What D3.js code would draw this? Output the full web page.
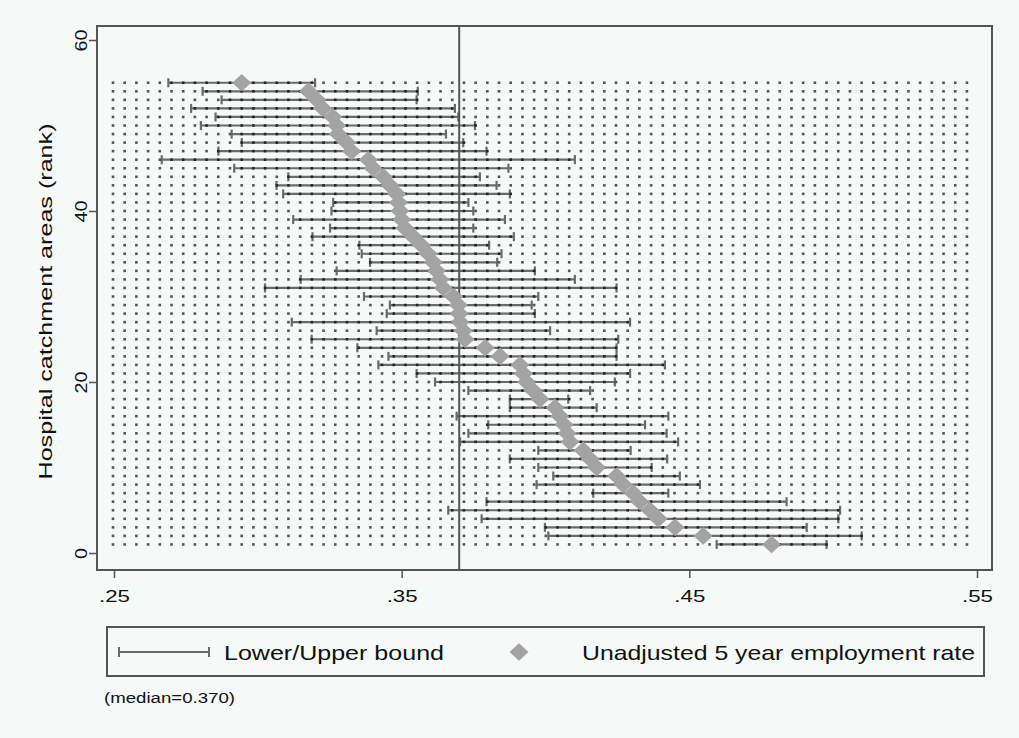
<!DOCTYPE html>
<html><head><meta charset="utf-8">
<script src="https://cdn.jsdelivr.net/npm/d3@7"></script>
<style>
body{margin:0;background:#f5f9f7;}
text{font-family:"Liberation Sans",Arial,sans-serif;fill:#111;}
</style>
</head><body>
<svg id="c" width="1019" height="738"></svg>
<script>
// ---- data (index 0 = rank 1 ... index 54 = rank 55) ----
const estimate = [.4786,.4548,.4450,.4392,.4363,.4328,.4305,.4270,.4247,.4178,
  .4155,.4131,.4085,.4075,.4065,.4050,.4033,.3981,.3957,.3934,
  .3923,.3911,.3842,.3790,.3720,.3714,.3703,.3700,.3697,.3680,
  .3645,.3633,.3621,.3610,.3592,.3569,.3540,.3511,.3500,.3494,
  .3489,.3483,.3459,.3436,.3401,.3384,.3326,.3309,.3279,.3274,
  .3261,.3226,.3205,.3176,.2944];
const lower = [.4595,.4010,.3998,.3778,.3662,.3795,.4166,.3969,.4027,.3975,
  .3876,.3975,.3703,.3732,.3801,.3691,.3876,.3876,.3732,.3616,
  .3552,.3419,.3454,.3346,.3187,.3413,.3118,.3448,.3459,.3369,
  .3025,.3149,.3274,.3390,.3361,.3353,.3190,.3251,.3123,.3256,
  .3262,.3088,.3065,.3106,.2918,.2666,.2863,.2944,.2909,.2802,
  .2853,.2768,.2874,.2808,.2689];
const upper = [.4977,.5099,.4908,.5018,.5024,.4838,.4427,.4537,.4467,.4369,
  .4423,.4296,.4461,.4421,.4346,.4427,.4178,.4079,.4155,.4241,
  .4294,.4415,.4247,.4247,.4253,.4016,.4294,.3963,.3952,.3975,
  .4247,.4102,.3963,.3832,.3847,.3804,.3890,.3749,.3859,.3749,
  .3732,.3876,.3830,.3772,.3871,.4102,.3795,.3714,.3654,.3755,
  .3697,.3685,.3552,.3556,.3199];
const ranks = d3.range(1, estimate.length + 1);
const xTicks = [0.25, 0.35, 0.45, 0.55];
const xTickLabels = [".25", ".35", ".45", ".55"];
const yTicks = [0, 20, 40, 60];
const median = 0.370;
const legendLabels = ["Lower/Upper bound", "Unadjusted 5 year employment rate"];
const yTitle = "Hospital catchment areas (rank)";
const note = "(median=0.370)";

const data = ranks.map((r, i) => ({rank: r, est: estimate[i], lo: lower[i], hi: upper[i]}));

const svg = d3.select("#c");
const x = d3.scaleLinear().domain([0.25, 0.55]).range([114, 977]);
const y = d3.scaleLinear().domain([0, 60]).range([553, 40]);
const frame = {l: 97, r: 992, t: 26, b: 570};

svg.append("rect").attr("width", 1019).attr("height", 738).attr("fill", "#f5f9f7");

// error bars (drawn under the dot grid)
const gBars = svg.append("g").attr("stroke", "#6a6a6a").attr("stroke-width", 2.2).attr("fill", "none");
data.forEach(d => {
  gBars.append("line").attr("x1", x(d.lo)).attr("x2", x(d.hi)).attr("y1", y(d.rank)).attr("y2", y(d.rank));
  gBars.append("line").attr("x1", x(d.lo)).attr("x2", x(d.lo)).attr("y1", y(d.rank) - 4.5).attr("y2", y(d.rank) + 4.5);
  gBars.append("line").attr("x1", x(d.hi)).attr("x2", x(d.hi)).attr("y1", y(d.rank) - 4.5).attr("y2", y(d.rank) + 4.5);
});

// dot grid
const gDots = svg.append("g");
const nDots = 74;
const dx0 = x(0.25) - 1, dx1 = x(0.5465);
const step = (dx1 - dx0) / (nDots - 1);
data.forEach(d => {
  d3.range(nDots).forEach(k => {
    const px = dx0 + k * step;
    const onBar = px >= x(d.lo) - 1 && px <= x(d.hi) + 1;
    gDots.append("rect")
      .attr("x", px - 1.3).attr("y", y(d.rank) - 1.3)
      .attr("width", 2.6).attr("height", 2.6).attr("fill", onBar ? "#262626" : "#555");
  });
});

// median line
svg.append("line").attr("x1", x(median)).attr("x2", x(median))
  .attr("y1", frame.t).attr("y2", frame.b).attr("stroke", "#555").attr("stroke-width", 2);

// diamonds
const diamond = (cx, cy, w, h) => `M${cx},${cy - h}L${cx + w},${cy}L${cx},${cy + h}L${cx - w},${cy}Z`;
svg.append("g").selectAll("path").data(data).join("path")
  .attr("d", d => diamond(x(d.est), y(d.rank), 9.5, 8.8))
  .attr("fill", "#a3a3a3");

// frame
svg.append("rect").attr("x", frame.l).attr("y", frame.t)
  .attr("width", frame.r - frame.l).attr("height", frame.b - frame.t)
  .attr("fill", "none").attr("stroke", "#555").attr("stroke-width", 2);

// x axis
const gx = svg.append("g").attr("transform", `translate(0,${frame.b})`);
gx.call(d3.axisBottom(x).tickValues(xTicks).tickSize(8).tickFormat((d, i) => xTickLabels[i]));
gx.select(".domain").remove();
gx.selectAll(".tick line").attr("stroke", "#555").attr("stroke-width", 1.5);
gx.selectAll(".tick text").attr("font-size", 17).attr("y", 20).attr("dy", "0.71em")
  .attr("textLength", 31).attr("lengthAdjust", "spacingAndGlyphs")
  .style("font-family", '"Liberation Sans",Arial,sans-serif').attr("fill", "#111");

// y axis
const gy = svg.append("g").attr("transform", `translate(${frame.l},0)`);
gy.call(d3.axisLeft(y).tickValues(yTicks).tickSize(8).tickFormat(d3.format("d")));
gy.select(".domain").remove();
gy.selectAll(".tick line").attr("stroke", "#555").attr("stroke-width", 1.5);
gy.selectAll(".tick text").remove();
gy.selectAll(".tick").append("text")
  .attr("transform", "translate(-10,0) rotate(-90)")
  .attr("text-anchor", "middle").attr("font-size", 17).attr("fill", "#111")
  .attr("textLength", d => d === 0 ? 11 : 22).attr("lengthAdjust", "spacingAndGlyphs")
  .text(d => d3.format("d")(d));

// y title
svg.append("text").attr("transform", `translate(52,${(y(0) + y(60)) / 2 + 5}) rotate(-90)`)
  .attr("text-anchor", "middle").attr("font-size", 19)
  .attr("textLength", 356).attr("lengthAdjust", "spacingAndGlyphs")
  .text(yTitle);

// legend
const lg = svg.append("g");
lg.append("rect").attr("x", 107).attr("y", 627).attr("width", 877).attr("height", 49)
  .attr("fill", "none").attr("stroke", "#555").attr("stroke-width", 2);
const ly = 652;
lg.append("line").attr("x1", 119).attr("x2", 209).attr("y1", ly).attr("y2", ly).attr("stroke", "#6a6a6a").attr("stroke-width", 2);
lg.append("line").attr("x1", 119).attr("x2", 119).attr("y1", ly - 5).attr("y2", ly + 5).attr("stroke", "#6a6a6a").attr("stroke-width", 2);
lg.append("line").attr("x1", 209).attr("x2", 209).attr("y1", ly - 5).attr("y2", ly + 5).attr("stroke", "#6a6a6a").attr("stroke-width", 2);
lg.append("text").attr("x", 224).attr("y", 660).attr("font-size", 21)
  .attr("textLength", 220).attr("lengthAdjust", "spacingAndGlyphs").text(legendLabels[0]);
lg.append("path").attr("d", diamond(519, ly, 9.5, 8.8)).attr("fill", "#a3a3a3");
lg.append("text").attr("x", 582).attr("y", 660).attr("font-size", 21)
  .attr("textLength", 393).attr("lengthAdjust", "spacingAndGlyphs").text(legendLabels[1]);

// note
svg.append("text").attr("x", 104).attr("y", 703).attr("font-size", 14)
  .attr("textLength", 131).attr("lengthAdjust", "spacingAndGlyphs").text(note);
</script>
</body></html>
